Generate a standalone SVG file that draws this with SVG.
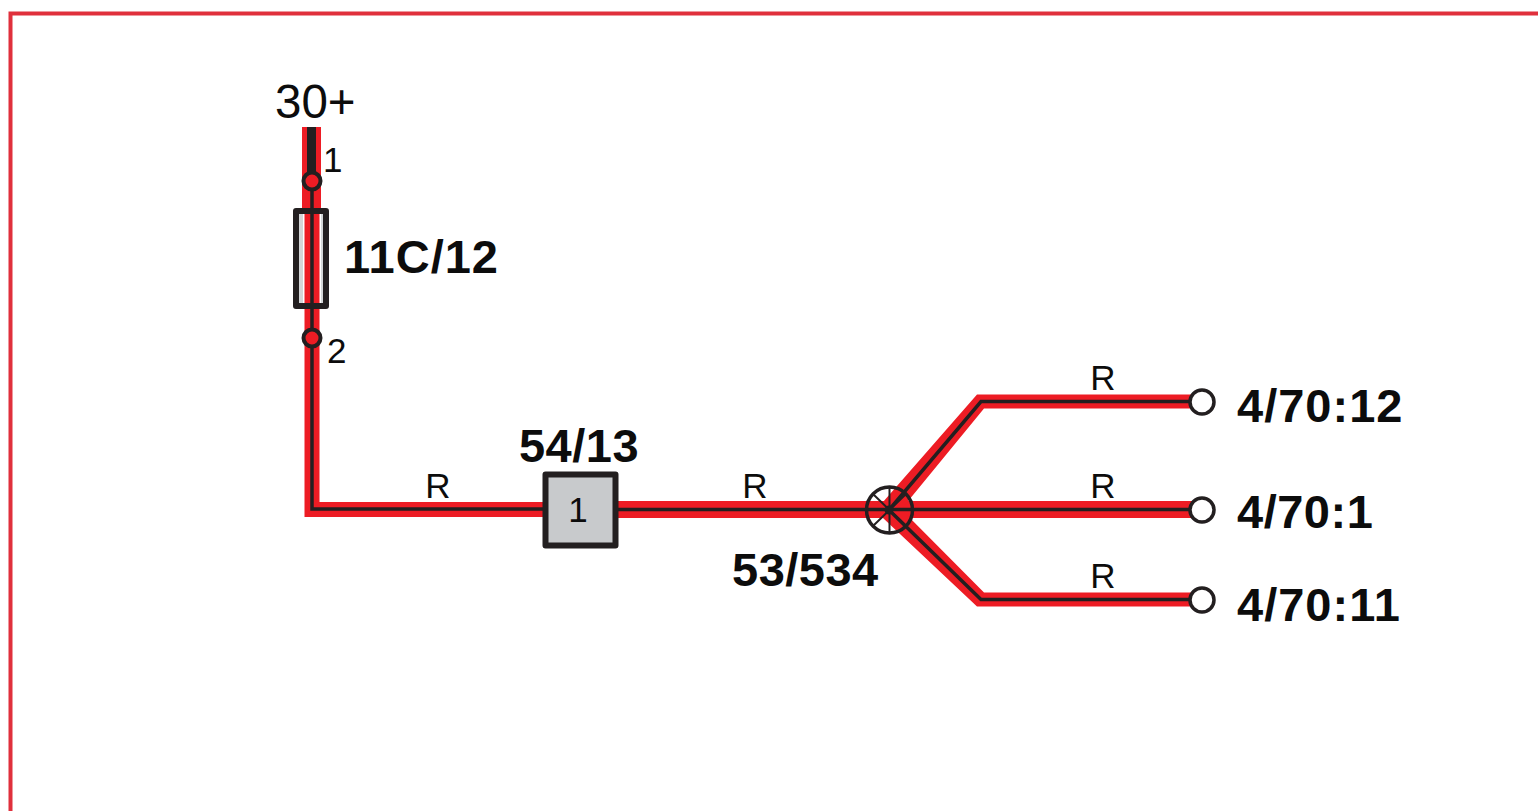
<svg xmlns="http://www.w3.org/2000/svg" width="1538" height="811" viewBox="0 0 1538 811">
<style>
text{font-family:"Liberation Sans",Arial,sans-serif;fill:#0c0c0c}
.b{font-weight:bold;font-size:47px;letter-spacing:1px}
.c{letter-spacing:.5px}
.n{font-size:35px}
.r{fill:none;stroke:#ed1c24;stroke-linejoin:miter}
.f{fill:#ed1c24}
.k{fill:none;stroke:#231f20;stroke-width:3.500;stroke-linejoin:miter}
.t{fill:#fff;stroke:#231f20;stroke-width:3.500}
.p{fill:#ed1c24;stroke:#231f20;stroke-width:4}
</style>
<rect width="1538" height="811" fill="#fff"/>
<path d="M10.500 811V13.500H1538" fill="none" stroke="#e0303c" stroke-width="4"/>
<g id="connectors">
<path class="r" stroke-width="19" d="M311.500 127V210"/>
<path class="r" stroke-width="15" d="M312 205V509.500H545"/>
<path class="r" stroke-width="17" d="M615 509.500H1195"/>
<path class="f" d="M883 502L977 394.500H1195V408.500H984L895 517Z"/>
<path class="f" d="M883 518L977 606.500H1195V592.500H984L895 503Z"/>
<path d="M311.500 127V178" fill="none" stroke="#231f20" stroke-width="9"/>
<path class="k" d="M312 181V509H545"/>
<path class="k" d="M615 509.500H1195"/>
<path class="k" d="M889 510L981 401.500H1195"/>
<path class="k" d="M889 510L981 599.500H1195"/>
</g>
<g id="fuse-11C-12">
<rect x="299" y="210" width="4" height="96" fill="#d4d6d8"/>
<rect x="321" y="210" width="2.500" height="96" fill="#d4d6d8"/>
<rect x="296" y="211" width="30" height="95" fill="none" stroke="#231f20" stroke-width="6" stroke-linejoin="round"/>
<text class="b" x="344" y="273">11C/12</text>
</g>
<g id="pin-1"><circle class="p" cx="312" cy="181" r="8.500"/><text class="n" x="323" y="172">1</text></g>
<g id="pin-2"><circle class="p" cx="312" cy="338" r="8.500"/><text class="n" x="327" y="363">2</text></g>
<g id="source-30"><text x="275" y="118" font-size="47.500">30+</text></g>
<g id="connector-54-13">
<rect x="545.500" y="474.500" width="70" height="71" fill="#c8cacc" stroke="#231f20" stroke-width="6" stroke-linejoin="round"/>
<text class="n" x="578" y="522" text-anchor="middle" fill="#333">1</text>
<text class="b c" x="579" y="462" text-anchor="middle">54/13</text>
</g>
<g id="splice-53-534" fill="none" stroke="#231f20">
<circle cx="889.500" cy="510" r="23" stroke-width="3.500"/>
<path stroke-width="2" d="M889.500 487V533M866.500 510H912.500M873 494L906 526M906 494L873 526"/>
<circle cx="889" cy="510" r="4.500" fill="#231f20" stroke="none"/>
<text class="b c" x="732" y="586" stroke="none">53/534</text>
</g>
<g id="terminal-12"><circle class="t" cx="1202" cy="402" r="12"/><text class="b" x="1237" y="422">4/70:12</text></g>
<g id="terminal-1"><circle class="t" cx="1202" cy="510" r="12"/><text class="b c" x="1237" y="528">4/70:1</text></g>
<g id="terminal-11"><circle class="t" cx="1202" cy="600" r="12"/><text class="b" x="1237" y="621">4/70:11</text></g>
<g id="wire-labels" text-anchor="middle">
<text class="n" x="438" y="498">R</text>
<text class="n" x="755" y="498">R</text>
<text class="n" x="1103" y="390">R</text>
<text class="n" x="1103" y="498">R</text>
<text class="n" x="1103" y="588">R</text>
</g>
</svg>
